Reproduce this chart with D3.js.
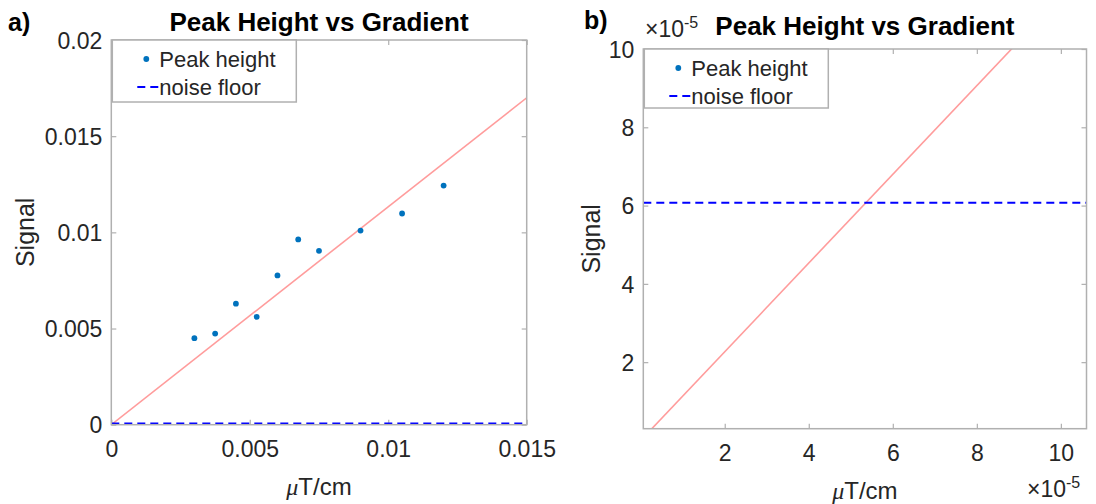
<!DOCTYPE html>
<html>
<head>
<meta charset="utf-8">
<script src="https://cdn.jsdelivr.net/npm/d3@7"></script>
<style>
  body { margin: 0; background: #fff; }
  text { font-family: "Liberation Sans", Arial, sans-serif; }
</style>
</head>
<body>
<div id="chart"></div>
<script>
// data
const gradient = [0.003, 0.00375, 0.0045, 0.00525, 0.006, 0.00675, 0.0075, 0.009, 0.0105, 0.012];
const peakHeight = [0.00450, 0.00474, 0.00629, 0.00561, 0.00776, 0.00963, 0.00904, 0.01009, 0.01098, 0.01243];
const fitSlope = 1.133;
const fitIntercept = 0;
const noiseFloor = 6.07e-5;

const ticksA_x = [0, 0.005, 0.01, 0.015];
const ticksA_y = [0, 0.005, 0.01, 0.015, 0.02];
const ticksB = [2, 4, 6, 8, 10]; // x 1e-5
const legendLabels = ["Peak height", "noise floor"];
const titleText = "Peak Height vs Gradient";

const points = gradient.map((g, i) => ({ x: g, y: peakHeight[i] }));

const svgWidth = 1096;
const svgHeight = 504;

const svg = d3.select("#chart")
  .append("svg")
  .attr("width", svgWidth)
  .attr("height", svgHeight);

const tickColor = "#262626";
const boxColor = "#b0b0b0";

function drawPanel(p) {
  const x = d3.scaleLinear().domain(p.xDomain).range([p.left, p.right]);
  const y = d3.scaleLinear().domain(p.yDomain).range([p.bottom, p.top]);

  const g = svg.append("g");

  const clipId = "clip-" + p.name;
  svg.append("clipPath").attr("id", clipId)
    .append("rect")
    .attr("x", p.left).attr("y", p.top)
    .attr("width", p.right - p.left).attr("height", p.bottom - p.top);

  // axes, ticks pointing inward
  const fmt = p.fmt;
  const bottomAxis = d3.axisBottom(x).tickValues(p.xTicks).tickFormat(fmt)
    .tickSizeInner(-5).tickSizeOuter(0).tickPadding(16);
  const leftAxis = d3.axisLeft(y).tickValues(p.yTicks).tickFormat(fmt)
    .tickSizeInner(-5).tickSizeOuter(0).tickPadding(9);
  const topAxis = d3.axisTop(x).tickValues(p.xTicks).tickFormat("")
    .tickSizeInner(-5).tickSizeOuter(0);
  const rightAxis = d3.axisRight(y).tickValues(p.yTicks).tickFormat("")
    .tickSizeInner(-5).tickSizeOuter(0);

  const gb = g.append("g").attr("transform", `translate(0, ${p.bottom})`).call(bottomAxis);
  const gl = g.append("g").attr("transform", `translate(${p.left}, 0)`).call(leftAxis);
  const gt = g.append("g").attr("transform", `translate(0, ${p.top})`).call(topAxis);
  const gr = g.append("g").attr("transform", `translate(${p.right}, 0)`).call(rightAxis);

  [gb, gl, gt, gr].forEach(a => {
    a.select(".domain").remove();
    a.selectAll(".tick line").attr("stroke", boxColor).attr("stroke-width", 1.2);
    a.selectAll(".tick text")
      .attr("fill", tickColor)
      .attr("font-size", 23)
      .style("font-family", "'Liberation Sans', Arial, sans-serif");
  });
  gb.selectAll(".tick text").attr("dy", "0.71em");
  gl.selectAll(".tick text").attr("dy", "0.36em");

  // fit line
  g.append("line")
    .attr("clip-path", `url(#${clipId})`)
    .attr("x1", x(p.xDomain[0])).attr("y1", y(fitSlope * p.xDomain[0] + fitIntercept))
    .attr("x2", x(p.xDomain[1])).attr("y2", y(fitSlope * p.xDomain[1] + fitIntercept))
    .attr("stroke", "#ff9c9c")
    .attr("stroke-width", 1.6);

  // noise floor
  g.append("line")
    .attr("clip-path", `url(#${clipId})`)
    .attr("x1", p.left).attr("x2", p.right)
    .attr("y1", y(noiseFloor)).attr("y2", y(noiseFloor))
    .attr("stroke", "#0000ff")
    .attr("stroke-width", 2)
    .attr("stroke-dasharray", "8,5");

  // peak heights
  g.append("g").attr("clip-path", `url(#${clipId})`)
    .selectAll("circle")
    .data(points)
    .enter()
    .append("circle")
    .attr("cx", d => x(d.x))
    .attr("cy", d => y(d.y))
    .attr("r", 2.9)
    .attr("fill", "#0072BD");

  // box
  g.append("rect")
    .attr("x", p.left).attr("y", p.top)
    .attr("width", p.right - p.left).attr("height", p.bottom - p.top)
    .attr("fill", "none")
    .attr("stroke", boxColor)
    .attr("stroke-width", 1.5);

  // legend
  const lg = g.append("g").attr("transform", `translate(${p.left + 1}, ${p.top})`);
  lg.append("rect")
    .attr("x", 0).attr("y", 0)
    .attr("width", 184).attr("height", p.legendH)
    .attr("fill", "#fff")
    .attr("stroke", boxColor)
    .attr("stroke-width", 1.5);
  lg.append("circle").attr("cx", 34).attr("cy", 19).attr("r", 2.9).attr("fill", "#0072BD");
  lg.append("line")
    .attr("x1", 25).attr("x2", 46).attr("y1", 47).attr("y2", 47)
    .attr("stroke", "#0000ff").attr("stroke-width", 2).attr("stroke-dasharray", "8,5");
  lg.selectAll("text.leg")
    .data(legendLabels)
    .enter()
    .append("text")
    .attr("class", "leg")
    .attr("x", 47)
    .attr("y", (d, i) => 27 + i * 28)
    .attr("font-size", 22)
    .attr("fill", tickColor)
    .text(d => d);

  // title
  g.append("text")
    .attr("x", (p.left + p.right) / 2)
    .attr("y", p.titleY)
    .attr("text-anchor", "middle")
    .attr("font-size", 26)
    .attr("font-weight", "bold")
    .attr("fill", "#000")
    .text(titleText);

  // axis labels
  const xl = g.append("text")
    .attr("x", (p.left + p.right) / 2)
    .attr("y", p.bottom + 70)
    .attr("text-anchor", "middle")
    .attr("font-size", 24)
    .attr("fill", tickColor);
  xl.append("tspan")
    .style("font-family", "'Liberation Serif', 'DejaVu Serif', serif")
    .attr("font-style", "italic")
    .text("\u03bc");
  xl.append("tspan").text("T/cm");

  g.append("text")
    .attr("transform", `translate(${p.yLabelX}, ${(p.top + p.bottom) / 2}) rotate(-90)`)
    .attr("text-anchor", "middle")
    .attr("font-size", 25)
    .attr("fill", tickColor)
    .text("Signal");

  // panel letter
  g.append("text")
    .attr("x", p.letterX)
    .attr("y", p.letterY)
    .attr("font-size", 25)
    .attr("font-weight", "bold")
    .attr("fill", "#000")
    .text(p.letter);

  return { x, y, g };
}

drawPanel({
  name: "a",
  left: 111.3, right: 526.7, top: 40, bottom: 424.7,
  xDomain: [0, 0.015], yDomain: [0, 0.02],
  xTicks: ticksA_x, yTicks: ticksA_y,
  fmt: d => String(d),
  legendH: 62,
  titleY: 31,
  yLabelX: 34,
  letter: "a)", letterX: 8, letterY: 31
});

drawPanel({
  name: "b",
  left: 643.3, right: 1086.5, top: 49, bottom: 428.7,
  xDomain: [0.062e-5, 10.61e-5], yDomain: [0.3e-5, 10e-5],
  xTicks: ticksB.map(v => v * 1e-5), yTicks: ticksB.map(v => v * 1e-5),
  fmt: d => String(Math.round(d * 1e5)),
  legendH: 59,
  titleY: 35,
  yLabelX: 600,
  letter: "b)", letterX: 584, letterY: 29
});

// exponent labels for panel b
function exponent(xPos, yPos) {
  const t = svg.append("text")
    .attr("x", xPos).attr("y", yPos)
    .attr("font-size", 23)
    .attr("fill", tickColor);
  t.append("tspan").text("\u00d710");
  t.append("tspan").attr("dy", -9).attr("font-size", 16).text("-5");
}
exponent(645, 37);
exponent(1027, 497);
</script>
</body>
</html>
